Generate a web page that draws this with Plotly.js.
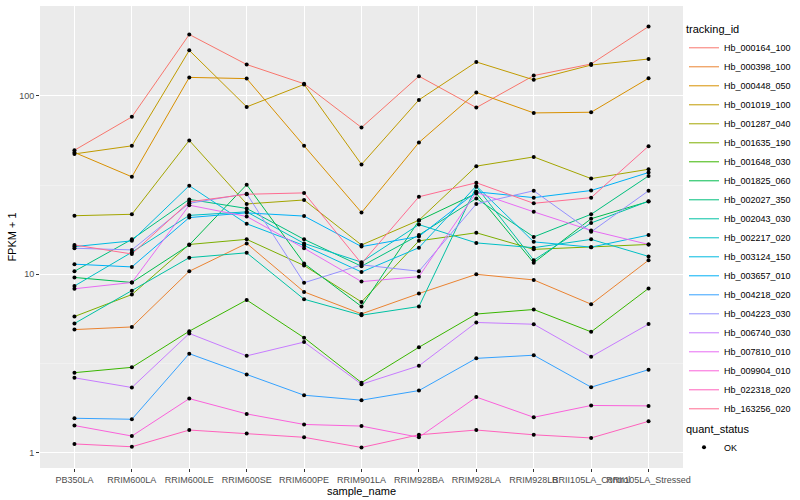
<!DOCTYPE html>
<html>
<head>
<meta charset="utf-8">
<script src="https://cdn.plot.ly/plotly-3.0.1.min.js"></script>
<style>html,body{margin:0;padding:0;background:#fff;}#chart{width:800px;height:500px;}</style>
</head>
<body>
<div id="chart"></div>
<script>
// ---- data ----
const samples = ["PB350LA","RRIM600LA","RRIM600LE","RRIM600SE","RRIM600PE","RRIM901LA","RRIM928BA","RRIM928LA","RRIM928LB","RRII105LA_Control","RRII105LA_Stressed"];
const trackingIds = ["Hb_000164_100","Hb_000398_100","Hb_000448_050","Hb_001019_100","Hb_001287_040","Hb_001635_190","Hb_001648_030","Hb_001825_060","Hb_002027_350","Hb_002043_030","Hb_002217_020","Hb_003124_150","Hb_003657_010","Hb_004218_020","Hb_004223_030","Hb_006740_030","Hb_007810_010","Hb_009904_010","Hb_022318_020","Hb_163256_020"];
const Hb_000164_100 = [49.6, 76.3, 221, 150, 117, 66.5, 129, 86, 130, 151, 245];
const Hb_000398_100 = [4.9, 5.07, 10.4, 14.9, 7.97, 6.0, 7.8, 10.0, 9.3, 6.8, 12.0];
const Hb_000448_050 = [48.2, 35.2, 127, 125, 52.5, 22.2, 54.8, 104.5, 80.3, 81, 125.6];
const Hb_001019_100 = [47.3, 52.5, 180, 86.8, 116, 41.3, 95, 155, 123, 149, 161];
const Hb_001287_040 = [21.3, 21.7, 56.3, 24.8, 26.1, 14.6, 20.1, 40.4, 45.5, 34.4, 38.8];
const Hb_001635_190 = [5.8, 7.7, 14.7, 15.7, 11.2, 7.0, 15.4, 17.1, 13.8, 14.2, 14.7];
const Hb_001648_030 = [2.81, 3.01, 4.8, 7.18, 4.41, 2.47, 3.90, 5.99, 6.35, 4.76, 8.34];
const Hb_001825_060 = [9.6, 9.0, 14.6, 31.8, 11.5, 6.6, 20.0, 28.4, 11.6, 20.5, 25.6];
const Hb_002027_350 = [10.4, 15.7, 26.3, 23.4, 15.7, 11.1, 16.6, 26.6, 16.2, 21.7, 35.6];
const Hb_002043_030 = [5.3, 8.1, 12.4, 13.2, 7.25, 5.9, 6.6, 31.0, 12.0, 19.4, 25.7];
const Hb_002217_020 = [8.6, 13.3, 21.4, 22.4, 14.9, 11.7, 19.0, 15.0, 14.1, 15.7, 12.6];
const Hb_003124_150 = [14.3, 15.4, 31.4, 19.2, 14.5, 10.3, 14.1, 31.3, 15.2, 14.2, 16.6];
const Hb_003657_010 = [11.4, 11.0, 20.8, 22.1, 21.2, 14.3, 16.3, 29.0, 26.9, 29.5, 37.2];
const Hb_004218_020 = [1.56, 1.54, 3.59, 2.74, 2.10, 1.97, 2.23, 3.38, 3.52, 2.33, 2.92];
const Hb_004223_030 = [14.0, 13.7, 25.0, 28.3, 8.97, 11.3, 10.4, 24.8, 29.4, 17.3, 29.4];
const Hb_006740_030 = [2.63, 2.32, 4.66, 3.49, 4.17, 2.42, 3.07, 5.37, 5.25, 3.45, 5.26];
const Hb_007810_010 = [8.3, 9.0, 24.4, 21.1, 14.0, 9.1, 9.7, 28.8, 22.4, 17.6, 14.7];
const Hb_009904_010 = [1.42, 1.24, 2.01, 1.65, 1.44, 1.41, 1.22, 2.05, 1.58, 1.84, 1.83];
const Hb_022318_020 = [1.12, 1.08, 1.34, 1.28, 1.22, 1.07, 1.26, 1.34, 1.26, 1.21, 1.50];
const Hb_163256_020 = [14.6, 13.0, 25.5, 28.1, 28.6, 11.5, 27.2, 32.6, 25.0, 26.9, 52.3];
const seriesValues = [Hb_000164_100, Hb_000398_100, Hb_000448_050, Hb_001019_100, Hb_001287_040, Hb_001635_190, Hb_001648_030, Hb_001825_060, Hb_002027_350, Hb_002043_030, Hb_002217_020, Hb_003124_150, Hb_003657_010, Hb_004218_020, Hb_004223_030, Hb_006740_030, Hb_007810_010, Hb_009904_010, Hb_022318_020, Hb_163256_020];
const quantStatus = "OK";
const yTickVals = [1, 10, 100];
const yTickText = ["1", "10", "100"];

// ---- styles ----
const colors = ["#F8766D","#EA8331","#D89000","#C09B00","#A3A500","#7CAE00","#39B600","#00BB4E","#00BF7D","#00C1A3","#00BFC4","#00BAE0","#00B0F6","#35A2FF","#9590FF","#C77CFF","#E76BF3","#FA62DB","#FF62BC","#FF6C91"];
const FONT = "Liberation Sans, Arial, Helvetica, sans-serif";

const traces = trackingIds.map((id, i) => ({
  type: "scatter", mode: "lines", name: id,
  x: samples, y: seriesValues[i],
  line: {color: colors[i], width: 1},
  legend: "legend", hoverinfo: "x+y+name"
}));
// points layer (all points, quant_status = OK)
const px = [], py = [];
seriesValues.forEach(v => { v.forEach((val, j) => { px.push(samples[j]); py.push(val); }); });
traces.push({
  type: "scatter", mode: "markers", name: quantStatus,
  x: px, y: py,
  marker: {color: "#000000", size: 4, symbol: "circle"},
  legend: "legend2"
});

const layout = {
  width: 800, height: 500,
  margin: {l: 40, r: 117, t: 6, b: 32},
  paper_bgcolor: "#FFFFFF", plot_bgcolor: "#EBEBEB",
  font: {family: FONT, size: 9, color: "#4D4D4D"},
  xaxis: {
    type: "category", categoryorder: "array", categoryarray: samples,
    range: [-0.6, 10.6], showgrid: true, gridcolor: "#FFFFFF", gridwidth: 1,
    zeroline: false, showline: false, tickangle: 0,
    ticks: "outside", ticklen: 3, tickcolor: "#333333", tickwidth: 1,
    tickfont: {family: FONT, size: 9, color: "#4D4D4D"},
    title: {text: "sample_name", font: {family: FONT, size: 11, color: "#000000"}, standoff: 0}
  },
  yaxis: {
    type: "log", range: [-0.0857, 2.504],
    tickmode: "array", tickvals: yTickVals, ticktext: yTickText,
    showgrid: true, gridcolor: "#FFFFFF", gridwidth: 1, zeroline: false, showline: false,
    ticks: "outside", ticklen: 3, tickcolor: "#333333", tickwidth: 1,
    tickfont: {family: FONT, size: 9, color: "#4D4D4D"},
    minor: {tickmode: "array", tickvals: [3.1623, 31.623, 316.23], showgrid: true, gridcolor: "#F5F5F5", gridwidth: 0.6, ticks: ""},
    title: {text: "FPKM + 1", font: {family: FONT, size: 11, color: "#000000"}, standoff: 0}
  },
  legend: {
    xref: "container", yref: "container", x: 0.855, y: 0.962, xanchor: "left", yanchor: "top",
    maxheight: 440,
    title: {text: "tracking_id", font: {family: FONT, size: 11, color: "#000000"}},
    font: {family: FONT, size: 9, color: "#000000"},
    bgcolor: "rgba(0,0,0,0)", itemwidth: 30, tracegroupgap: 0
  },
  legend2: {
    xref: "container", yref: "container", x: 0.855, y: 0.163, xanchor: "left", yanchor: "top",
    title: {text: "quant_status", font: {family: FONT, size: 11, color: "#000000"}},
    font: {family: FONT, size: 9, color: "#000000"},
    bgcolor: "rgba(0,0,0,0)", itemwidth: 30
  },
  showlegend: true
};

Plotly.newPlot("chart", traces, layout, {staticPlot: true, displayModeBar: false});
</script>
</body>
</html>
